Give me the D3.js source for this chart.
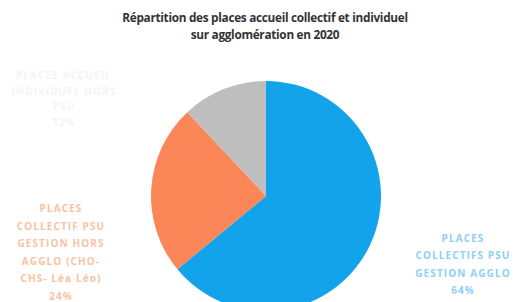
<!DOCTYPE html>
<html><head><meta charset="utf-8">
<script src="https://cdn.jsdelivr.net/npm/d3@7"></script>
<style>body{margin:0;background:#fff}svg{display:block}</style>
</head><body>
<svg id="c" width="513" height="302"></svg>
<script>
const categories = ["PLACES COLLECTIFS PSU GESTION AGGLO", "PLACES COLLECTIF PSU GESTION HORS AGGLO (CHO-CHS- Léa Léo)", "PLACES ACCUEIL INDIVIDUEL HORS PSU"];
const values = [64, 24, 12];
const colors = ["#12A3EA", "#FB8658", "#BEBEBE"];
const labelColors = ["#8DD0F6", "#F9C3A2", "#F4F4F4"];
const labelLines = [
  ["PLACES", "COLLECTIFS PSU", "GESTION  AGGLO", "64%"],
  ["PLACES", "COLLECTIF PSU", "GESTION  HORS", "AGGLO (CHO-", "CHS- Léa Léo)", "24%"],
  ["PLACES ACCUEIL", "INDIVIDUEL HORS", "PSU", "12%"]
];
const labelPos = [[463, 242, 17.3], [61, 212, 17.6], [64, 79, 15.7]];
const title = ["Répartition des places accueil collectif et individuel", "sur agglomération en 2020"];

const svg = d3.select("#c");
const cx = 266, cy = 196, r = 115;
const pie = d3.pie().sort(null).value(d => d)(values);
const arc = d3.arc().innerRadius(0).outerRadius(r);
svg.append("g").attr("transform", `translate(${cx},${cy})`)
  .selectAll("path").data(pie).join("path")
  .attr("d", arc).attr("fill", (d, i) => colors[i]);

svg.append("g").selectAll("text").data(title).join("text")
  .attr("x", 265).attr("y", (d, i) => 22 + i * 16.5)
  .attr("text-anchor", "middle")
  .attr("font-family", "Open Sans, sans-serif").attr("font-weight", 700)
  .attr("font-size", 11.8).attr("fill", "#333").attr("letter-spacing", -0.3)
  .text(d => d);

labelLines.forEach((lines, i) => {
  const [x, y, dy] = labelPos[i];
  svg.append("g").selectAll("text").data(lines).join("text")
    .attr("x", x).attr("y", (d, j) => y + j * dy)
    .attr("text-anchor", "middle")
    .attr("font-family", "Open Sans, sans-serif").attr("font-weight", 700)
    .attr("font-size", 10).attr("fill", labelColors[i]).attr("letter-spacing", 1.1)
    .text(d => d);
});
</script>
</body></html>
